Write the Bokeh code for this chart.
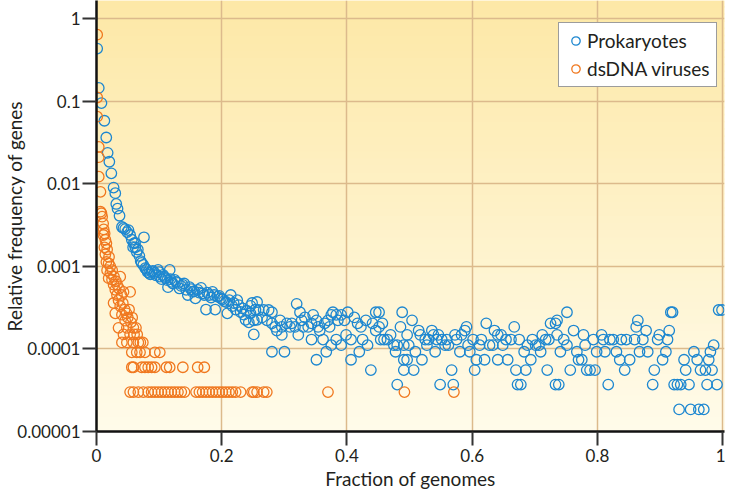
import math
from bokeh.plotting import figure
from bokeh.models import Range1d, FixedTicker, BoxAnnotation
from bokeh.embed import file_html
from bokeh.resources import INLINE

# ---------------- data ----------------
prok_x = [0.0011, 0.0036, 0.0079, 0.0126, 0.0156, 0.0178, 0.0205, 0.0237, 0.0273, 0.030,
          0.0316, 0.0336, 0.0368, 0.0406, 0.043, 0.0458, 0.049, 0.051, 0.0537, 0.0564,
          0.0595, 0.0616, 0.062, 0.0758,
          0.0585, 0.0643, 0.0684, 0.0706, 0.0747, 0.0801, 0.0842, 0.088, 0.0932, 0.0984,
          0.1011, 0.1063, 0.1106, 0.1169, 0.1142, 0.1196, 0.1248, 0.130, 0.1327, 0.1379,
          0.1433, 0.1458, 0.1485, 0.1537, 0.158, 0.1616, 0.167, 0.1695, 0.1749, 0.180,
          0.1853, 0.1896, 0.1932, 0.1986, 0.2038, 0.209, 0.2144, 0.2169, 0.2223, 0.2248,
          0.2302, 0.2354, 0.2381, 0.2433, 0.2485, 0.2512, 0.2539, 0.2564,
          0.066, 0.072, 0.078, 0.082, 0.086, 0.090, 0.095, 0.100, 0.104, 0.108,
          0.113, 0.118, 0.122, 0.127, 0.135, 0.140, 0.151, 0.156, 0.164, 0.172,
          0.177, 0.183, 0.188, 0.196, 0.201, 0.207, 0.212, 0.219, 0.227, 0.233,
          0.240, 0.246,
          0.246, 0.2565, 0.2512, 0.2591, 0.2644, 0.267, 0.2723, 0.2749, 0.2802, 0.2802,
          0.2802, 0.2854, 0.288, 0.2933, 0.296, 0.296, 0.3002, 0.3039, 0.3091, 0.3118,
          0.317, 0.3197, 0.3223, 0.325, 0.3276, 0.3302, 0.3328, 0.3381, 0.3434, 0.3434,
          0.346, 0.3513, 0.3513, 0.3539, 0.3565, 0.3618, 0.3644, 0.367, 0.3697, 0.3723,
          0.375, 0.375, 0.3776, 0.3829, 0.3829, 0.3855, 0.3908, 0.3908, 0.396, 0.3986,
          0.4013, 0.4065, 0.4065, 0.4118, 0.417, 0.4197, 0.4223, 0.425, 0.4302, 0.4329,
          0.4382, 0.4408, 0.446, 0.446, 0.4513, 0.4513, 0.4566, 0.4539, 0.4592, 0.4645,
          0.4697, 0.475, 0.4776, 0.4803, 0.4803, 0.4855, 0.4882, 0.4908, 0.4908, 0.4908,
          0.4961,
          0.504, 0.4987, 0.4961, 0.5066, 0.5093, 0.5145, 0.5172, 0.5198, 0.525, 0.5277,
          0.5303, 0.5356, 0.5382, 0.5409, 0.5435, 0.5461, 0.5488, 0.5514, 0.5567, 0.5593,
          0.562, 0.5672, 0.5698, 0.5725, 0.5751, 0.5804, 0.583, 0.5883, 0.5909, 0.5935,
          0.5962, 0.6014, 0.604, 0.6067, 0.6119, 0.6146, 0.6198, 0.6225, 0.6277, 0.633,
          0.6356, 0.6409, 0.6409, 0.6462, 0.6488, 0.654, 0.6567, 0.662, 0.6672, 0.6699,
          0.6725, 0.6751, 0.6777, 0.683, 0.6857, 0.6883, 0.6936, 0.6962, 0.7014, 0.7067,
          0.7094, 0.712, 0.7173, 0.7199, 0.7225, 0.7252, 0.7331, 0.7331,
          0.7356, 0.7356, 0.7383, 0.7409, 0.7462, 0.7514, 0.7514, 0.7567, 0.762, 0.7672,
          0.7699, 0.7751, 0.7778, 0.7804, 0.783, 0.7883, 0.7936, 0.7962, 0.7988, 0.8067,
          0.8094, 0.812, 0.8173, 0.8199, 0.8252, 0.8304, 0.8357, 0.8383, 0.8436, 0.8462,
          0.8515, 0.8594, 0.862, 0.8646, 0.8673, 0.8726, 0.8778, 0.8804, 0.8883, 0.8909,
          0.8962, 0.8989, 0.9041, 0.9094, 0.912, 0.9147, 0.9173, 0.920, 0.9226, 0.9278,
          0.9305, 0.9331, 0.9384, 0.941, 0.9463, 0.9489, 0.9541, 0.9594, 0.9647, 0.962,
          0.9699, 0.9726, 0.9752, 0.9778, 0.9805, 0.9831, 0.9857, 0.991, 0.9937, 0.999]
prok_y = [0.434, 0.145, 0.095, 0.058, 0.0364, 0.0237, 0.0185, 0.0134, 0.0090, 0.0077,
          0.0057, 0.0050, 0.0041, 0.0030, 0.0029, 0.00283, 0.0026, 0.00275, 0.0024, 0.0021,
          0.0019, 0.00192, 0.0017, 0.00225,
          0.00171, 0.00149, 0.00134, 0.00116, 0.00104, 0.000905, 0.000832, 0.00086, 0.000832, 0.000905,
          0.00075, 0.000787, 0.00072, 0.000905, 0.00056, 0.00065, 0.000685, 0.00063, 0.00054, 0.000596,
          0.00052, 0.00045, 0.00056, 0.00049, 0.00041, 0.00052, 0.00055, 0.00047, 0.0003, 0.00045,
          0.00049, 0.0003, 0.00043, 0.00041, 0.00038, 0.00027, 0.00045, 0.00033, 0.0003, 0.00039,
          0.00028, 0.00026, 0.000225, 0.00021, 0.00036, 0.00015, 0.0003, 0.000225,
          0.0016, 0.0011, 0.00095, 0.00085, 0.0008, 0.00088, 0.00078, 0.00085, 0.0007, 0.00075,
          0.00068, 0.0007, 0.00062, 0.00065, 0.00058, 0.00062, 0.00053, 0.0005, 0.00048, 0.00045,
          0.00048, 0.00042, 0.00045, 0.00044, 0.0004, 0.00037, 0.00039, 0.00036, 0.00034, 0.00031,
          0.00029, 0.00027,
          3.33e-4, 3.7e-4, 2.22e-4, 2.96e-4, 2.41e-4, 2.96e-4, 2.22e-4, 2.96e-4, 2.78e-4, 2.04e-4,
          9.25e-5, 1.85e-4, 1.67e-4, 2.22e-4, 1.85e-4, 1.48e-4, 9.25e-5, 2.04e-4, 1.85e-4, 2.04e-4,
          1.85e-4, 3.52e-4, 1.48e-4, 2.78e-4, 2.22e-4, 1.85e-4, 2.41e-4, 1.85e-4, 2.04e-4, 1.3e-4,
          2.59e-4, 2.22e-4, 7.4e-5, 1.85e-4, 1.67e-4, 1.3e-4, 2.04e-4, 9.25e-5, 2.22e-4, 1.85e-4,
          2.59e-4, 1.11e-4, 2.78e-4, 2.59e-4, 1.3e-4, 2.22e-4, 2.59e-4, 1.11e-4, 2.22e-4, 1.48e-4,
          2.78e-4, 1.3e-4, 7.4e-5, 2.41e-4, 2.04e-4, 9.25e-5, 1.85e-4, 1.3e-4, 2.22e-4, 1.11e-4,
          5.55e-5, 2.04e-4, 2.78e-4, 1.67e-4, 2.78e-4, 1.85e-4, 2.04e-4, 1.3e-4, 1.3e-4, 1.3e-4,
          1.48e-4, 1.11e-4, 9.25e-5, 1.11e-4, 3.7e-5, 1.85e-4, 2.78e-4, 1.11e-4, 7.4e-5, 5.55e-5,
          1.48e-4,
          2.22e-4, 1.11e-4, 7.4e-5, 5.55e-5, 9.25e-5, 1.67e-4, 1.48e-4, 7.4e-5, 1.3e-4, 1.11e-4,
          1.3e-4, 1.67e-4, 1.48e-4, 9.25e-5, 1.3e-4, 1.48e-4, 3.7e-5, 1.3e-4, 1.11e-4, 1.3e-4,
          1.11e-4, 5.55e-5, 3.7e-5, 1.48e-4, 1.3e-4, 9.25e-5, 1.48e-4, 1.67e-4, 1.85e-4, 1.11e-4,
          9.25e-5, 1.3e-4, 5.55e-5, 7.4e-5, 1.11e-4, 1.3e-4, 7.4e-5, 2.04e-4, 1.11e-4, 1.11e-4,
          1.67e-4, 1.48e-4, 7.4e-5, 1.48e-4, 1.11e-4, 1.3e-4, 7.4e-5, 1.3e-4, 1.85e-4, 5.55e-5,
          3.7e-5, 1.3e-4, 3.7e-5, 9.25e-5, 5.55e-5, 1.11e-4, 7.4e-5, 1.3e-4, 1.11e-4, 1.11e-4,
          9.25e-5, 1.48e-4, 1.3e-4, 5.55e-5, 1.3e-4, 2.04e-4, 2.04e-4, 3.7e-5,
          2.22e-4, 1.48e-4, 3.7e-5, 9.25e-5, 1.3e-4, 2.78e-4, 1.11e-4, 5.55e-5, 1.67e-4, 9.25e-5,
          7.4e-5, 7.4e-5, 1.48e-4, 1.11e-4, 5.55e-5, 5.55e-5, 1.3e-4, 5.55e-5, 9.25e-5, 1.48e-4,
          1.3e-4, 9.25e-5, 3.7e-5, 1.3e-4, 1.3e-4, 9.25e-5, 7.4e-5, 1.3e-4, 5.55e-5, 1.3e-4,
          7.4e-5, 1.3e-4, 1.85e-4, 2.22e-4, 9.25e-5, 1.3e-4, 1.67e-4, 9.25e-5, 3.7e-5, 5.55e-5,
          1.3e-4, 1.48e-4, 7.4e-5, 9.25e-5, 1.3e-4, 1.67e-4, 2.78e-4, 2.78e-4, 3.7e-5, 3.7e-5,
          1.85e-5, 3.7e-5, 7.4e-5, 5.55e-5, 3.7e-5, 1.85e-5, 9.25e-5, 7.4e-5, 5.55e-5, 1.85e-5,
          1.85e-5, 5.55e-5, 3.7e-5, 7.4e-5, 9.25e-5, 5.55e-5, 1.11e-4, 3.7e-5, 2.96e-4, 2.96e-4]

virus_x = [0.0011, 0.0011, 0.0011, 0.0036, 0.0036, 0.0036, 0.0063, 0.0063, 0.0079, 0.009,
           0.0106, 0.0115, 0.011, 0.0142, 0.0158, 0.0126, 0.0142, 0.0158, 0.0194, 0.0169,
           0.0221, 0.0194, 0.0248, 0.0273, 0.0379, 0.030, 0.0327, 0.0431, 0.0537, 0.0352,
           0.0273, 0.0379, 0.030, 0.0406, 0.0458, 0.0352, 0.0485, 0.0589, 0.0431, 0.0537,
           0.0406, 0.0485, 0.0589, 0.0668,
           0.013, 0.017, 0.020, 0.022, 0.025, 0.028, 0.031, 0.033, 0.036, 0.040,
           0.042, 0.045, 0.048, 0.050, 0.052, 0.055, 0.057, 0.060, 0.063, 0.065,
           0.070, 0.074,
           0.0564, 0.0643, 0.0695, 0.0774, 0.0932, 0.1011,
           0.0564, 0.059, 0.0722, 0.0774, 0.0826, 0.088, 0.0932, 0.1117, 0.1169, 0.1379,
           0.1616, 0.1722,
           0.0537, 0.059, 0.0668, 0.0748, 0.0826, 0.088, 0.0932, 0.0985, 0.1038, 0.109,
           0.1143, 0.1196, 0.1248, 0.1301, 0.1354, 0.1406, 0.159, 0.1643, 0.1695, 0.1748,
           0.1801, 0.1853, 0.1906, 0.1959, 0.2011, 0.2064, 0.2117, 0.2169, 0.2222, 0.2302,
           0.2485, 0.2512, 0.2565, 0.267, 0.272, 0.3697, 0.4918, 0.5708]
virus_y = [0.64, 0.111, 0.065, 0.028, 0.021, 0.0122, 0.0080, 0.0046, 0.0044, 0.0040,
           0.0033, 0.0028, 0.0024, 0.0021, 0.0019, 0.0017, 0.0014, 0.00113, 0.00109, 0.0009,
           0.00083, 0.00072, 0.00069, 0.0006, 0.00075, 0.00052, 0.00045, 0.00049, 0.00049, 0.00039,
           0.00036, 0.00033, 0.00027, 0.00026, 0.00022, 0.00018, 0.00018, 0.00018, 0.00015, 0.00015,
           0.00012, 0.00012, 0.00012, 0.00012,
           0.0025, 0.0016, 0.0013, 0.001, 0.0009, 0.00075, 0.00066, 0.0006, 0.00054, 0.00045,
           0.00036, 0.0003, 0.00027, 0.00024, 0.0003, 0.00021, 0.00024, 0.00015, 0.00018, 0.00015,
           0.00012, 0.00012,
           9.1e-5, 9.1e-5, 9.1e-5, 9.1e-5, 9.1e-5, 9.1e-5,
           6.0e-5, 6.0e-5, 6.0e-5, 6.0e-5, 6.0e-5, 6.0e-5, 6.0e-5, 6.0e-5, 6.0e-5, 6.0e-5,
           6.0e-5, 6.0e-5,
           3.0e-5, 3.0e-5, 3.0e-5, 3.0e-5, 3.0e-5, 3.0e-5, 3.0e-5, 3.0e-5, 3.0e-5, 3.0e-5,
           3.0e-5, 3.0e-5, 3.0e-5, 3.0e-5, 3.0e-5, 3.0e-5, 3.0e-5, 3.0e-5, 3.0e-5, 3.0e-5,
           3.0e-5, 3.0e-5, 3.0e-5, 3.0e-5, 3.0e-5, 3.0e-5, 3.0e-5, 3.0e-5, 3.0e-5, 3.0e-5,
           3.0e-5, 3.0e-5, 3.0e-5, 3.0e-5, 3.0e-5, 3.0e-5, 3.0e-5, 3.0e-5]

series_names = ["Prokaryotes", "dsDNA viruses"]
x_ticks = [0, 0.2, 0.4, 0.6, 0.8, 1]
x_tick_labels = ["0", "0.2", "0.4", "0.6", "0.8", "1"]
y_ticks = [1e-5, 1e-4, 1e-3, 1e-2, 1e-1, 1]
y_tick_labels = ["0.00001", "0.0001", "0.001", "0.01", "0.1", "1"]

# ---------------- style ----------------
BLUE = "#1d87d0"
ORANGE = "#f0781f"
FONT = "Lato"
TEXT = "#231f20"
GRID = "#dcba8c"

Y_MIN, Y_MAX = 1e-5, 1.66

p = figure(width=725, height=492,
           x_range=Range1d(0, 1.003), y_range=Range1d(Y_MIN, Y_MAX),
           y_axis_type="log", output_backend="svg", toolbar_location=None,
           min_border_top=0, min_border_right=1, min_border_left=0, min_border_bottom=0)

p.background_fill_color = "#fff6d6"
p.border_fill_color = "white"
p.outline_line_color = None

# vertical gradient background (yellow at top, pale at bottom)
n_bands = 60
lo, hi = math.log10(Y_MIN), math.log10(Y_MAX)
top_rgb = (253, 232, 166)
bot_rgb = (255, 251, 234)
for i in range(n_bands):
    f0 = i / n_bands
    f1 = (i + 1) / n_bands
    t = (f0 + f1) / 2
    c = tuple(int(round(bot_rgb[j] + (top_rgb[j] - bot_rgb[j]) * t)) for j in range(3))
    b = BoxAnnotation(bottom=10 ** (lo + (hi - lo) * f0),
                      top=10 ** (lo + (hi - lo) * min(1.0, f1 + 0.004)),
                      fill_color="#%02x%02x%02x" % c, fill_alpha=1.0,
                      line_color=None, level="image")
    p.add_layout(b)

p.scatter(prok_x, prok_y, marker="circle", size=10.5, fill_color=None,
          line_color=BLUE, line_width=1.3, legend_label=series_names[0])
p.scatter(virus_x, virus_y, marker="circle", size=10.5, fill_color=None,
          line_color=ORANGE, line_width=1.3, legend_label=series_names[1])

# axes
p.xaxis.ticker = FixedTicker(ticks=x_ticks)
p.xaxis.major_label_overrides = {t: l for t, l in zip(x_ticks, x_tick_labels)}
p.yaxis.ticker = FixedTicker(ticks=y_ticks)
p.yaxis.major_label_overrides = {t: l for t, l in zip(y_ticks, y_tick_labels)}

for ax in (p.xaxis[0], p.yaxis[0]):
    ax.axis_line_color = "#111111"
    ax.axis_line_width = 2.5
    ax.major_tick_line_color = "#333333"
    ax.major_tick_line_width = 2
    ax.major_tick_out = 14
    ax.major_tick_in = 0
    ax.minor_tick_line_color = None
    ax.major_label_text_font = FONT
    ax.major_label_text_font_size = "17px"
    ax.major_label_text_color = TEXT
    ax.axis_label_text_font = FONT
    ax.axis_label_text_font_size = "19px"
    ax.axis_label_text_font_style = "normal"
    ax.axis_label_text_color = TEXT

p.xaxis.axis_label = "Fraction of genomes"
p.yaxis.axis_label = "Relative frequency of genes"
p.xaxis.major_label_standoff = 3
p.xaxis.axis_label_standoff = 2
p.yaxis.major_label_standoff = 2
p.yaxis.axis_label_standoff = -12

p.xgrid.grid_line_color = GRID
p.ygrid.grid_line_color = GRID
p.xgrid.grid_line_width = 1.5
p.ygrid.grid_line_width = 1.5

# legend
lg = p.legend[0]
lg.location = (462, 344)
lg.margin = 0
lg.border_line_color = "#3a3a3a"
lg.border_line_width = 1.5
lg.background_fill_color = "white"
lg.background_fill_alpha = 1.0
lg.label_text_font = FONT
lg.label_text_font_size = "19px"
lg.label_text_color = TEXT
lg.glyph_width = 21
lg.glyph_height = 21
lg.label_height = 20
lg.label_standoff = 1
lg.padding = 6
lg.spacing = 5

open("out.html", "w").write(file_html(p, INLINE))
